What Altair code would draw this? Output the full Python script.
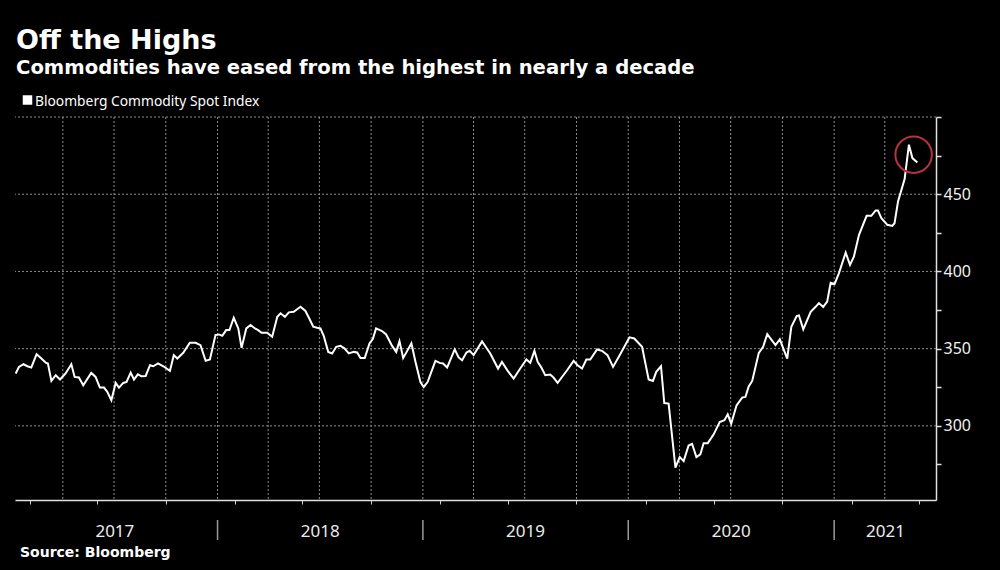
import altair as alt
import pandas as pd

TITLE = "Off the Highs"
SUBTITLE = "Commodities have eased from the highest in nearly a decade"
LEGEND_LABEL = "Bloomberg Commodity Spot Index"
SOURCE = "Source: Bloomberg"

T2017 = [2017.017, 2017.033, 2017.055, 2017.074, 2017.093, 2017.119, 2017.142, 2017.163, 2017.174,
         2017.191, 2017.212, 2017.233, 2017.260, 2017.288, 2017.304, 2017.325, 2017.346, 2017.385,
         2017.406, 2017.427, 2017.447, 2017.463, 2017.483, 2017.504, 2017.520, 2017.541, 2017.557,
         2017.577, 2017.593, 2017.612, 2017.630, 2017.650, 2017.671, 2017.687, 2017.710, 2017.736,
         2017.768, 2017.787, 2017.804, 2017.833, 2017.865, 2017.893, 2017.917, 2017.942, 2017.963,
         2017.990]
V2017 = [333.9, 338.2, 339.9, 338.6, 337.8, 346.4, 343.6, 341.0, 340.4,
         329.1, 332.8, 330.0, 333.9, 339.9, 331.7, 331.3, 326.3, 334.3,
         331.7, 324.8, 324.8, 322.0, 316.6, 327.8, 324.8, 327.8, 328.4,
         334.5, 330.0, 333.4, 332.1, 332.3, 339.3, 338.6, 340.4, 338.6,
         335.6, 345.8, 343.6, 347.3, 353.8, 353.8, 352.3, 342.1, 343.0,
         358.8]

T2018 = [2018.006, 2018.023, 2018.042, 2018.058, 2018.079, 2018.101, 2018.117, 2018.140, 2018.161,
         2018.182, 2018.198, 2018.214, 2018.242, 2018.266, 2018.291, 2018.307, 2018.328, 2018.347,
         2018.371, 2018.404, 2018.428, 2018.448, 2018.466, 2018.485, 2018.501, 2018.517, 2018.539,
         2018.558, 2018.578, 2018.599, 2018.619, 2018.639, 2018.663, 2018.680, 2018.696, 2018.717,
         2018.740, 2018.756, 2018.772, 2018.801, 2018.821, 2018.850, 2018.870, 2018.886, 2018.904,
         2018.923, 2018.944, 2018.964, 2018.988]
V2018 = [359.2, 358.3, 362.0, 362.0, 370.0, 363.1, 350.5, 363.1, 365.3,
         363.1, 362.0, 360.3, 360.3, 357.7, 370.6, 372.9, 370.6, 373.5,
         373.9, 377.1, 374.4, 369.2, 364.2, 363.5, 363.1, 358.3, 347.9,
         346.9, 351.2, 351.8, 350.1, 346.9, 347.9, 347.5, 344.0, 344.0,
         353.4, 356.2, 363.1, 361.4, 359.2, 351.8, 347.9, 354.9, 344.0,
         348.4, 353.4, 341.4, 328.4]

T2019 = [2019.004, 2019.023, 2019.061, 2019.082, 2019.098, 2019.118, 2019.155, 2019.174, 2019.191,
         2019.212, 2019.228, 2019.247, 2019.288, 2019.328, 2019.366, 2019.385, 2019.413, 2019.442,
         2019.474, 2019.504, 2019.523, 2019.543, 2019.559, 2019.575, 2019.596, 2019.620, 2019.636,
         2019.656, 2019.702, 2019.734, 2019.753, 2019.775, 2019.796, 2019.815, 2019.848, 2019.872,
         2019.899, 2019.926, 2019.961]
V2019 = [325.2, 328.4, 342.1, 340.8, 340.4, 337.8, 349.5, 344.3, 342.5,
         347.5, 348.6, 345.8, 354.7, 346.9, 337.1, 341.4, 335.6, 330.6,
         337.1, 343.0, 340.8, 348.6, 341.4, 338.2, 332.8, 333.2, 331.3,
         327.8, 336.0, 342.1, 339.3, 337.1, 343.0, 343.0, 349.5, 348.6,
         345.8, 338.2, 346.4]

T2020 = [2020.006, 2020.029, 2020.067, 2020.099, 2020.120, 2020.136, 2020.159, 2020.175, 2020.196,
         2020.229, 2020.250, 2020.269, 2020.293, 2020.310, 2020.331, 2020.350, 2020.366, 2020.386,
         2020.415, 2020.444, 2020.467, 2020.483, 2020.500, 2020.526, 2020.553, 2020.569, 2020.585,
         2020.602, 2020.634, 2020.655, 2020.675, 2020.715, 2020.736, 2020.772, 2020.792, 2020.818,
         2020.829, 2020.850, 2020.886, 2020.910, 2020.926, 2020.947, 2020.966, 2020.983]
V2020 = [357.3, 356.6, 351.2, 330.0, 329.1, 335.0, 338.6, 314.8, 314.4,
         272.9, 279.8, 277.2, 287.3, 288.4, 279.8, 281.5, 288.8, 288.8,
         294.5, 302.5, 303.6, 307.5, 301.4, 313.3, 318.3, 318.7, 325.6,
         329.1, 347.3, 351.2, 359.4, 352.3, 356.0, 343.6, 364.2, 371.1,
         371.5, 362.5, 373.9, 377.1, 379.5, 377.0, 380.4, 392.7]

T2021 = [2021.002, 2021.023, 2021.056, 2021.077, 2021.096, 2021.121, 2021.158, 2021.181, 2021.202,
         2021.213, 2021.230, 2021.259, 2021.283, 2021.294, 2021.311, 2021.343, 2021.364, 2021.381,
         2021.405]
V2021 = [391.9, 398.8, 412.2, 404.2, 409.6, 423.7, 436.0, 436.0, 439.5,
         439.5, 434.5, 430.2, 429.5, 431.2, 445.3, 459.8, 482.1, 473.4,
         470.6]

# Highlight circle around the recent peak
CIRCLE_T = [2021.387]
CIRCLE_V = [475.6]

YEAR_LABELS = ["2017", "2018", "2019", "2020", "2021"]
YEAR_LABEL_T = [2017.5, 2018.5, 2019.5, 2020.5, 2021.25]
YEAR_BOUNDARY_T = [2018.0, 2019.0, 2020.0, 2021.0]

Y_TICKS = [275, 300, 325, 350, 375, 400, 425, 450, 475, 500]
Y_GRID = [300, 350, 400, 450, 500]


def to_date(y):
    yr = int(y)
    start = pd.Timestamp(year=yr, month=1, day=1)
    end = pd.Timestamp(year=yr + 1, month=1, day=1)
    return (start + (end - start) * (y - yr)).round("h")


times = T2017 + T2018 + T2019 + T2020 + T2021
values = V2017 + V2018 + V2019 + V2020 + V2021
df = pd.DataFrame({"date": [to_date(t) for t in times], "value": values})

month_ticks = []
quarter_dates = []
for yr in range(2017, 2022):
    for m in range(1, 13):
        if (yr == 2017 and m == 1) or (yr == 2021 and m > 6):
            continue
        month_ticks.append(alt.DateTime(year=yr, month=m, date=1))
        if m in (1, 4, 7, 10):
            quarter_dates.append(pd.Timestamp(year=yr, month=m, day=1))

x_scale = alt.Scale(domain=[alt.DateTime(year=2017, month=1, date=6),
                            alt.DateTime(year=2021, month=7, date=1)])
y_scale = alt.Scale(domain=[252, 500], nice=False, zero=False)

GRID = "#8c8c8c"

x_axis = alt.Axis(values=month_ticks, labels=False, ticks=True, tickSize=4, tickColor="#cfcfcf",
                  tickWidth=1, domain=True, domainColor="#e0e0e0", domainWidth=1.5,
                  grid=False, title=None)
y_axis = alt.Axis(orient="right", values=Y_TICKS,
                  labelExpr="(datum.value % 50 == 0 && datum.value < 500) ? datum.label : ''",
                  tickSize=5, tickColor="#e0e0e0", tickWidth=1.5, domainColor="#e0e0e0", domainWidth=1.5,
                  labelColor="#f0f0f0", labelFont="Noto Sans", labelFontSize=16, labelPadding=2,
                  grid=False, title=None)

vgrid = alt.Chart(pd.DataFrame({"date": quarter_dates})).mark_rule(
    color=GRID, strokeWidth=1, strokeDash=[2, 2]).encode(x=alt.X("date:T", title=None))
hgrid = alt.Chart(pd.DataFrame({"value": Y_GRID})).mark_rule(
    color=GRID, strokeWidth=1, strokeDash=[2, 2]).encode(y=alt.Y("value:Q", title=None))

line = alt.Chart(df).mark_line(color="white", strokeWidth=2).encode(
    x=alt.X("date:T", scale=x_scale, axis=x_axis),
    y=alt.Y("value:Q", scale=y_scale, axis=y_axis),
)

circle_df = pd.DataFrame({"date": [to_date(t) for t in CIRCLE_T], "value": CIRCLE_V})
circle = alt.Chart(circle_df).mark_point(shape="circle", size=1330, filled=False,
                                         stroke="#b8323f", strokeWidth=2, opacity=1).encode(
    x=alt.X("date:T", title=None), y=alt.Y("value:Q", title=None))

sep_df = pd.DataFrame({"date": [to_date(t) for t in YEAR_BOUNDARY_T]})
seps = alt.Chart(sep_df).mark_rule(color="#9a9a9a", strokeWidth=1.5).encode(
    x=alt.X("date:T", title=None), y=alt.value(403), y2=alt.value(423))

ylab_df = pd.DataFrame({"date": [to_date(t) for t in YEAR_LABEL_T], "label": YEAR_LABELS})
ylabs = alt.Chart(ylab_df).mark_text(font="Noto Sans", fontSize=17, color="#ececec",
                                     align="center", baseline="alphabetic").encode(
    x=alt.X("date:T", title=None), y=alt.value(420), text="label:N")


def text_layer(txt, x, y, font, size, weight="normal"):
    return alt.Chart(pd.DataFrame({"t": [txt]})).mark_text(
        font=font, fontSize=size, fontWeight=weight, color="white",
        align="left", baseline="alphabetic").encode(
        x=alt.value(x), y=alt.value(y), text="t:N")


title = text_layer(TITLE, 1, -68, "DejaVu Sans", 27, "bold")
subtitle = text_layer(SUBTITLE, 1, -43, "DejaVu Sans", 19.6, "bold")
legend_txt = text_layer(LEGEND_LABEL, 20, -11, "Noto Sans", 13.8)
source = text_layer(SOURCE, 5, 440, "DejaVu Sans", 14, "bold")
legend_sq = alt.Chart(pd.DataFrame({"t": [LEGEND_LABEL]})).mark_square(
    size=90, color="white", opacity=1).encode(x=alt.value(12.5), y=alt.value(-17))

chart = alt.layer(vgrid, hgrid, line, circle, seps, ylabs, title, subtitle, legend_sq,
                  legend_txt, source).properties(
    width=921, height=383,
    autosize=alt.AutoSizeParams(type="none"),
    padding={"left": 7, "top": 109, "right": 56, "bottom": 62},
).configure(background="black").configure_view(strokeWidth=0)

chart.save("out.html", embed_options={"renderer": "svg", "actions": False,
                                      "defaultStyle": "body { background: #000; }"})
